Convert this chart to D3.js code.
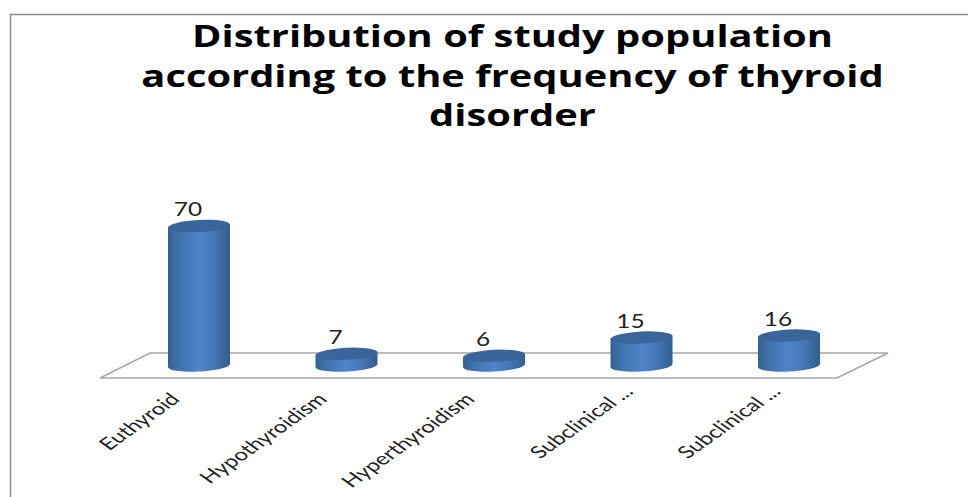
<!DOCTYPE html>
<html><head><meta charset="utf-8">
<script src="https://cdn.jsdelivr.net/npm/d3@7/dist/d3.min.js"></script>
<style>html,body{margin:0;padding:0;background:#fff}svg{display:block}</style>
</head><body>
<svg id="c" width="968" height="497"></svg>
<script>
const categories = ["Euthyroid","Hypothyroidism","Hyperthyroidism","Subclinical ...","Subclinical ..."];
const values = [70,7,6,15,16];
const titleLines = ["Distribution of study population","according to the frequency of thyroid","disorder"];

const svg = d3.select("#c");
const defs = svg.append("defs");
const grad = defs.append("linearGradient").attr("id","body").attr("x1",0).attr("x2",1).attr("y1",0).attr("y2",0);
[[0,"#34608f"],[0.12,"#3d6ea6"],[0.5,"#4f86c9"],[0.75,"#4476b3"],[1,"#335d8c"]].forEach(s=>grad.append("stop").attr("offset",s[0]).attr("stop-color",s[1]));

const stretch = 1.286;
const labelStretch = 1.41;

// frame
svg.append("path").attr("d","M10.5,497V14.5H968").attr("fill","none").attr("stroke","#8c8c8c").attr("stroke-width",1.5);

// title
svg.append("g").selectAll("text").data(titleLines).join("text")
  .attr("transform",(d,i)=>`translate(512.5,${47+i*39.5}) scale(${stretch},1)`)
  .attr("text-anchor","middle").attr("font-family","'Open Sans',sans-serif").attr("font-weight",700)
  .attr("font-size",31).attr("fill","#000").text(d=>d);

const x = d3.scalePoint().domain(d3.range(categories.length)).range([199,789]);
const y = d3.scaleLinear().domain([0,70]).range([368,226]);

// floor
const floor = d3.path();
floor.moveTo(100,378);floor.lineTo(150,353);floor.lineTo(888,353);floor.lineTo(837,378);floor.closePath();
svg.append("path").attr("d",floor.toString()).attr("fill","none").attr("stroke","#a6a6a6").attr("stroke-width",1.5);

// cylinders
const rx=31, ry=6;
const bars = svg.append("g").selectAll("g").data(values).join("g");
bars.append("path").attr("fill","url(#body)").attr("d",(d,i)=>{
  const cx=x(i), t=y(d), b=y(0);
  return `M${cx-rx},${t+1}L${cx-rx},${b-1}A${rx},${ry} -3 0 0 ${cx+rx},${b-4}L${cx+rx},${t-2}Z`;
});
bars.append("ellipse").attr("cx",(d,i)=>x(i)).attr("cy",d=>y(d)).attr("rx",rx).attr("ry",ry)
  .attr("transform",(d,i)=>`rotate(-3 ${x(i)} ${y(d)})`).attr("fill","#39659a");

// value labels
svg.append("g").selectAll("text").data(values).join("text")
  .attr("transform",(d,i)=>`translate(${x(i)-11},${y(d)-10}) scale(${stretch},1)`)
  .attr("font-family","'Lato',sans-serif").attr("font-size",19).attr("fill","#222").attr("text-anchor","middle").text(d=>d);

// category labels (truncated labels run further past the tick)
svg.append("g").selectAll("text").data(categories).join("text")
  .attr("transform",(d,i)=>`translate(${x(i)-31},${391}) scale(${labelStretch},1) rotate(-45)`)
  .attr("dx",d=>d.endsWith("...")?11:0)
  .attr("text-anchor","end").attr("dominant-baseline","hanging")
  .attr("font-family","'Lato',sans-serif").attr("font-size",17).attr("fill","#222").text(d=>d);
</script>
</body></html>
